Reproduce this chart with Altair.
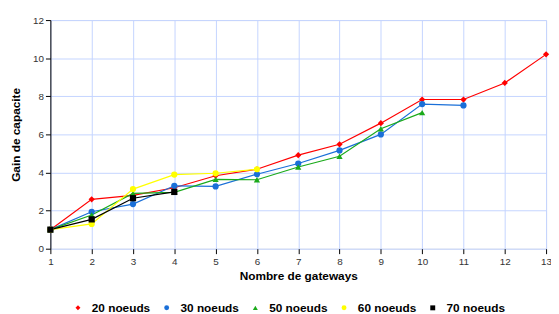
import altair as alt
import pandas as pd

series_names = ["20 noeuds", "30 noeuds", "50 noeuds", "60 noeuds", "70 noeuds"]
colors = ["#ff0000", "#1a6fd8", "#1aaa1a", "#ffff00", "#000000"]
shapes = ["diamond", "circle", "triangle-up", "circle", "square"]

x20 = [1, 2, 3, 4, 5, 6, 7, 8, 9, 10, 11, 12, 13]
y20 = [1.0, 2.59, 2.8, 3.2, 3.83, 4.17, 4.91, 5.48, 6.59, 7.83, 7.83, 8.7, 10.2]
x30 = [1, 2, 3, 4, 5, 6, 7, 8, 9, 10, 11]
y30 = [1.0, 1.94, 2.34, 3.3, 3.27, 3.91, 4.47, 5.16, 6.0, 7.59, 7.52]
x50 = [1, 2, 3, 4, 5, 6, 7, 8, 9, 10]
y50 = [1.0, 1.77, 2.9, 2.96, 3.64, 3.62, 4.29, 4.85, 6.3, 7.14]
x60 = [1, 2, 3, 4, 5, 6]
y60 = [1.0, 1.3, 3.13, 3.89, 3.96, 4.17]
x70 = [1, 2, 3, 4]
y70 = [1.0, 1.54, 2.65, 2.98]

rows = []
for name, xs, ys in zip(series_names, [x20, x30, x50, x60, x70], [y20, y30, y50, y60, y70]):
    for xv, yv in zip(xs, ys):
        rows.append({"x": xv, "y": yv, "serie": name})
df = pd.DataFrame(rows)

font = "Liberation Sans"
xscale = alt.Scale(domain=[1, 13], nice=False, zero=False)
yscale = alt.Scale(domain=[0, 12], nice=False)
cscale = alt.Scale(domain=series_names, range=colors)
sscale = alt.Scale(domain=series_names, range=shapes)

xenc = alt.X("x:Q", scale=xscale, axis=alt.Axis(
    title="Nombre de gateways", values=list(range(1, 14)), format="d",
    domain=False, tickColor="#000000", tickSize=5, labelFontSize=10,
    labelColor="#333333", titleFontSize=12, titleFontWeight="bold",
    titlePadding=4, gridColor="#c4d4ff", labelPadding=3, titleColor="#000000",
    titleAnchor="middle", labelFlush=False, labelBound=False))
yenc = alt.Y("y:Q", scale=yscale, axis=alt.Axis(
    title="Gain de capacite", values=list(range(0, 13, 2)),
    domain=True, domainColor="#000000", tickColor="#000000", tickSize=5,
    labelFontSize=10, labelColor="#333333", titleFontSize=12,
    titleFontWeight="bold", titlePadding=10, gridColor="#c4d4ff",
    titleColor="#000000", labelFlush=False))

leg = alt.Legend(
    title=None, orient="none", direction="horizontal",
    legendX=22, legendY=286, labelFontSize=12, labelFontWeight="bold",
    labelColor="#000000", symbolSize=25, columnPadding=10,
    labelOffset=8, labelFont=font)

lines = alt.Chart(df).mark_line(strokeWidth=1.2).encode(
    x=xenc, y=yenc,
    color=alt.Color("serie:N", scale=cscale, legend=None),
    detail="serie:N",
)
points = alt.Chart(df).mark_point(filled=True, opacity=1, size=40).encode(
    x=xenc, y=yenc,
    color=alt.Color("serie:N", scale=cscale, legend=leg),
    shape=alt.Shape("serie:N", scale=sscale, legend=leg),
)

chart = alt.layer(lines, points).resolve_legend(
    color="independent", shape="independent"
).properties(
    width=503, height=232,
    autosize=alt.AutoSizeParams(type="none"),
    padding={"left": 43, "top": 10, "right": 5, "bottom": 64},
).configure_view(stroke=None).configure(font=font).configure_axis(labelFont=font, titleFont=font)

chart.save("out.html", embed_options={"renderer": "svg", "actions": False})
